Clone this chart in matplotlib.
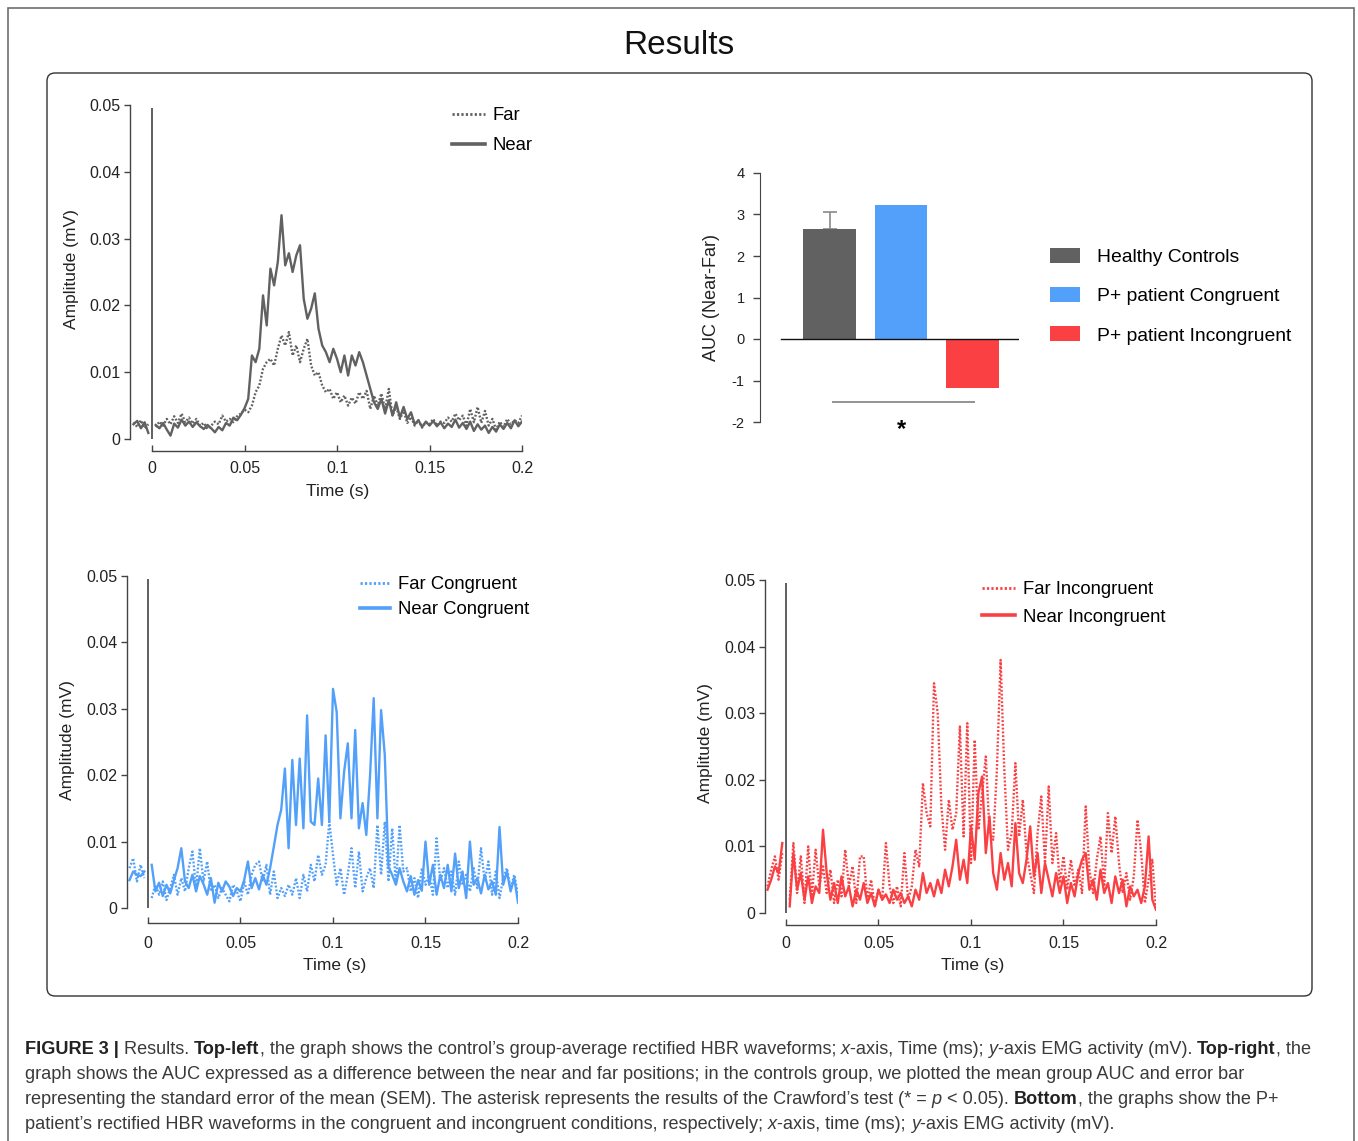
import numpy as np
import matplotlib
matplotlib.use('Agg')
import matplotlib.pyplot as plt
import matplotlib.transforms as mtransforms
from matplotlib.patches import FancyBboxPatch, Rectangle, Patch
from matplotlib.lines import Line2D

plt.rcParams['font.family'] = ['Liberation Sans', 'DejaVu Sans']
plt.rcParams['axes.unicode_minus'] = False

nan = np.nan

# sampling grid (s): 5 samples before the stimulus, gap at 0, then 100 samples
time = np.concatenate([np.linspace(-0.010, -0.002, 5), [0.0], np.linspace(0.002, 0.200, 100)])

# amplitudes in 1e-3 mV
hc_far = [2.5, 1.8, 2.8, 1.6, 2.2, nan,
          1.8, 2.6, 2.0, 3.0, 2.2, 3.4, 2.4, 3.8, 2.5, 3.2,
          2.3, 3.0, 2.0, 2.4, 1.5, 2.0, 2.6, 2.2, 3.5, 2.6,
          3.0, 2.5, 3.4, 3.8, 4.4, 4.0, 5.0, 7.0, 8.0, 10.5,
          11.5, 12.0, 11.0, 13.5, 15.5, 14.0, 16.0, 12.5, 14.0, 11.5,
          13.5, 15.0, 11.0, 9.5, 10.0, 8.0, 7.0, 7.5, 6.0, 7.0,
          5.5, 6.5, 5.0, 6.2, 5.3, 7.0, 6.0, 7.2, 4.5, 6.5,
          5.0, 6.8, 4.5, 7.5, 3.5, 4.8, 3.0, 4.2, 2.4, 3.3,
          2.0, 2.8, 1.7, 2.5, 2.2, 3.0, 2.0, 2.6, 2.4, 3.2,
          2.6, 3.8, 2.8, 3.5, 2.0, 4.5, 2.5, 4.8, 2.4, 4.2,
          2.0, 3.0, 1.4, 2.6, 1.8, 3.0, 2.2, 2.8, 2.4, 3.5]
hc_near = [2.2, 2.7, 1.6, 2.5, 0.9, nan,
           2.1, 1.6, 2.4, 1.4, 0.5, 2.3, 1.7, 2.9, 2.0, 2.6,
           1.8, 2.5, 1.9, 1.5, 2.1, 1.6, 1.0, 1.8, 1.3, 2.4,
           2.0, 3.2, 2.8, 3.6, 4.6, 6.0, 12.5, 11.5, 13.5, 21.5,
           17.0, 25.5, 23.0, 26.5, 33.5, 26.0, 27.8, 25.0, 27.5, 29.0,
           21.0, 18.0, 19.5, 21.8, 16.5, 14.0, 13.0, 11.5, 13.5, 12.0,
           10.0, 12.5, 9.5, 12.5, 11.0, 13.0, 11.5, 9.5, 7.5, 5.5,
           4.5, 6.0, 3.8, 5.8, 3.5, 5.5, 3.2, 4.8, 3.0, 4.0,
           2.2, 2.8, 1.8, 2.6, 2.0, 2.7, 1.9, 2.5, 1.6, 2.3,
           1.8, 2.9, 1.7, 2.4, 1.5, 2.6, 1.2, 2.2, 1.4, 2.0,
           0.9, 1.8, 1.1, 2.2, 1.5, 2.4, 1.6, 2.8, 1.9, 2.6]

con_far = [6.0, 7.5, 4.0, 6.5, 4.5, nan,
           1.5, 3.5, 2.0, 4.0, 1.2, 3.0, 5.0, 2.0, 4.5, 2.5,
           6.0, 8.5, 3.0, 9.0, 4.0, 7.0, 2.5, 3.5, 1.5, 3.0,
           2.0, 1.0, 3.5, 2.5, 1.0, 4.0, 2.0, 5.0, 6.5, 7.0,
           4.0, 6.5, 2.0, 5.5, 1.5, 3.0, 1.8, 3.5, 2.0, 4.5,
           1.5, 5.0, 2.5, 6.5, 4.0, 8.0, 5.0, 6.5, 13.0, 8.0,
           3.5, 6.0, 2.0, 5.0, 9.0, 3.0, 8.5, 2.5, 4.5, 6.0,
           3.0, 12.5, 5.0, 13.0, 4.0, 12.0, 3.5, 12.5, 5.5, 6.0,
           2.5, 4.5, 1.5, 6.0, 3.5, 5.0, 2.0, 10.5, 4.0, 6.0,
           3.0, 5.5, 2.0, 7.0, 3.5, 5.0, 2.5, 6.0, 3.0, 9.0,
           4.0, 7.0, 2.0, 5.5, 1.5, 4.5, 6.0, 3.0, 5.0, 2.0]
con_near = [4.2, 5.5, 5.0, 4.8, 5.5, nan,
            6.5, 2.5, 3.8, 1.8, 3.5, 2.2, 4.2, 6.0, 9.0, 4.0,
            3.0, 5.0, 2.5, 4.8, 3.6, 2.0, 4.5, 0.8, 3.8, 2.5,
            4.0, 3.2, 1.8, 3.0, 2.5, 4.2, 7.0, 3.0, 4.5, 2.8,
            5.0, 3.5, 6.0, 9.2, 12.5, 14.8, 21.0, 9.0, 22.3, 12.5,
            22.5, 12.0, 29.0, 13.0, 12.5, 19.5, 12.5, 26.0, 13.0, 33.0,
            29.5, 13.5, 20.5, 24.8, 13.5, 26.8, 12.0, 15.8, 11.0, 19.8,
            31.6, 13.5, 29.8, 23.0, 6.2, 5.0, 3.5, 6.0, 4.0, 2.5,
            4.8, 2.0, 4.2, 2.6, 10.0, 3.5, 6.5, 2.0, 5.0, 3.0,
            6.5, 2.5, 8.2, 3.0, 5.5, 1.5, 10.0, 3.5, 4.5, 2.2,
            5.0, 2.8, 4.0, 2.0, 12.2, 3.5, 5.5, 2.5, 4.5, 0.8]

inc_far = [4.0, 6.5, 8.5, 5.0, 9.0, nan,
           2.0, 10.5, 3.0, 8.5, 1.5, 10.0, 2.5, 9.5, 4.0, 7.0,
           3.0, 6.5, 1.5, 5.0, 2.5, 9.5, 4.0, 7.0, 1.5, 8.5,
           8.5, 2.0, 5.0, 1.0, 3.5, 2.0, 10.5, 4.0, 1.5, 4.0,
           1.0, 9.0, 2.0, 4.0, 9.5, 7.0, 19.5, 15.0, 13.0, 34.5,
           30.0, 16.0, 9.5, 17.0, 12.5, 15.0, 28.0, 11.5, 28.5, 7.5,
           26.0, 12.5, 18.0, 23.5, 12.0, 11.0, 21.5, 38.0, 21.5, 9.5,
           12.0, 22.5, 11.5, 17.0, 9.0, 6.0, 3.0, 12.0, 17.5, 7.5,
           19.0, 7.5, 12.0, 4.5, 8.5, 3.5, 8.0, 4.0, 6.5, 3.0,
           16.0, 6.5, 3.0, 8.0, 11.5, 4.0, 15.0, 9.0, 14.5, 7.5,
           3.0, 6.0, 2.0, 5.5, 14.0, 9.0, 1.5, 5.0, 8.0, 0.5]
inc_near = [3.5, 5.0, 7.0, 6.0, 10.5, nan,
            1.0, 9.0, 3.5, 6.0, 2.0, 5.5, 1.5, 4.0, 3.0, 12.5,
            6.0, 2.0, 4.5, 1.5, 5.5, 2.5, 4.0, 1.0, 3.5, 2.0,
            4.5, 1.5, 3.0, 1.0, 3.5, 2.0, 2.8, 1.5, 3.5, 2.0,
            3.0, 1.5, 2.5, 1.0, 3.5, 2.0, 6.0, 3.0, 4.5, 2.5,
            5.0, 3.0, 6.5, 4.0, 7.0, 11.0, 5.0, 8.0, 4.5, 13.0,
            8.0, 18.0, 20.5, 9.0, 14.5, 6.0, 3.5, 9.0, 5.0, 7.5,
            4.0, 13.5, 6.0, 4.5, 8.0, 13.0, 5.5, 9.0, 3.0, 7.5,
            5.0, 2.5, 6.0, 3.0, 5.5, 1.5, 4.5, 2.5, 6.0, 8.0,
            9.0, 3.5, 5.0, 2.0, 6.5, 3.0, 4.5, 1.5, 5.5, 3.0,
            5.0, 1.0, 4.0, 2.5, 3.5, 1.5, 4.0, 11.5, 2.0, 0.5]

# AUC bar chart
groups = ['Healthy Controls', 'P+ patient Congruent', 'P+ patient Incongruent']
auc = [2.64, 3.24, -1.19]
auc_sem = [0.43, 0, 0]

amp_ticks = [0, 0.01, 0.02, 0.03, 0.04, 0.05]
amp_labels = ['0', '0.01', '0.02', '0.03', '0.04', '0.05']
time_ticks = [0, 0.05, 0.1, 0.15, 0.2]
time_labels = ['0', '0.05', '0.1', '0.15', '0.2']
auc_ticks = [-2, -1, 0, 1, 2, 3, 4]

GRAY = '#616161'
BLUE = '#52a0fa'
RED = '#fa4043'

caption = [
    [('FIGURE 3 | ', 'bold', 'normal'), ('Results. ', 'normal', 'normal'), ('Top-left', 'bold', 'normal'),
     (', the graph shows the control\u2019s group-average rectified HBR waveforms; ', 'normal', 'normal'),
     ('x', 'normal', 'italic'), ('-axis, Time (ms); ', 'normal', 'normal'), ('y', 'normal', 'italic'),
     ('-axis EMG activity (mV). ', 'normal', 'normal'), ('Top-right', 'bold', 'normal'), (', the', 'normal', 'normal')],
    [('graph shows the AUC expressed as a difference between the near and far positions; in the controls group, '
      'we plotted the mean group AUC and error bar', 'normal', 'normal')],
    [('representing the standard error of the mean (SEM). The asterisk represents the results of the '
      'Crawford\u2019s test (* = ', 'normal', 'normal'), ('p', 'normal', 'italic'), (' < 0.05). ', 'normal', 'normal'),
     ('Bottom', 'bold', 'normal'), (', the graphs show the P+', 'normal', 'normal')],
    [('patient\u2019s rectified HBR waveforms in the congruent and incongruent conditions, respectively; ', 'normal', 'normal'),
     ('x', 'normal', 'italic'), ('-axis, time (ms); ', 'normal', 'normal'), ('y', 'normal', 'italic'),
     ('-axis EMG activity (mV).', 'normal', 'normal')],
]

W, H = 1358, 1141
fig = plt.figure(figsize=(W / 100, H / 100), dpi=100)


def px_rect(left, top, right, bottom):
    return [left / W, 1 - bottom / H, (right - left) / W, (bottom - top) / H]


# frames
ident = mtransforms.IdentityTransform()
fig.add_artist(Rectangle((8, -20), 1346, H - 8 + 20, transform=ident, fill=False,
                         edgecolor='#6e6e6e', lw=1.2))
fig.add_artist(FancyBboxPatch((47, H - 996), 1265, 923, transform=ident, fill=False,
                              boxstyle='round,pad=0,rounding_size=8', edgecolor='#333333', lw=1.0))
fig.text(679 / W, 1 - 46 / H, 'Results', fontsize=24, ha='center', va='center', color='#111111')


def wave_panel(rect, far, near, color, labels, leg_xy, leg_space, handle_len, xlo, ylo,
               ylab_x, xlab_y, xpad):
    ax = fig.add_axes(rect)
    ax.plot(time, np.array(far) / 1000, color=color, lw=1.7, ls=(0, (0.8, 0.8)))
    ax.plot(time, np.array(near) / 1000, color=color, lw=1.7)
    ax.vlines(0, 0, 0.0495, color='#444444', lw=1.2)
    ax.set_xlim(xlo, 0.2)
    ax.set_ylim(ylo, 0.05)
    for s in ['top', 'right']:
        ax.spines[s].set_visible(False)
    ax.spines['left'].set_bounds(0, 0.05)
    ax.spines['bottom'].set_bounds(0, 0.2)
    for s in ['left', 'bottom']:
        ax.spines[s].set_color('#444444')
        ax.spines[s].set_linewidth(1.0)
    ax.set_yticks(amp_ticks)
    ax.set_yticklabels(amp_labels)
    ax.set_xticks(time_ticks)
    ax.set_xticklabels(time_labels)
    ax.tick_params(axis='y', direction='out', length=4, width=1, color='#444444',
                   labelsize=11.5, labelcolor='#222222', pad=3)
    ax.tick_params(axis='x', direction='in', length=4, width=1, color='#444444',
                   labelsize=11.5, labelcolor='#222222', pad=xpad)
    ax.set_ylabel('Amplitude (mV)', fontsize=12.5, color='#222222')
    ax.set_xlabel('Time (s)', fontsize=12.5, color='#222222')
    ax.yaxis.set_label_coords(ylab_x, 0.527)
    ax.xaxis.set_label_coords(0.53, xlab_y)
    handles = [Line2D([], [], color=color, lw=2, ls=(0, (0.8, 0.8))),
               Line2D([], [], color=color, lw=2.6)]
    ax.legend(handles, labels, loc='upper left', bbox_to_anchor=(leg_xy[0] / W, 1 - leg_xy[1] / H),
              bbox_transform=fig.transFigure, frameon=False, fontsize=13.3, borderpad=0,
              borderaxespad=0, handlelength=handle_len, handletextpad=0.43, labelspacing=leg_space)
    return ax


wave_panel(px_rect(130, 105, 522, 451), hc_far, hc_near, GRAY, ['Far', 'Near'],
           (452, 107), 0.71, 1.78, -0.0119, -0.0018, -0.131, -0.094, 7)
wave_panel(px_rect(127, 576, 518, 923), con_far, con_near, BLUE, ['Far Congruent', 'Near Congruent'],
           (360, 576), 0.46, 1.62, -0.01135, -0.00226, -0.132, -0.101, 9)
wave_panel(px_rect(765, 580, 1156, 925), inc_far, inc_near, RED, ['Far Incongruent', 'Near Incongruent'],
           (982, 581), 0.58, 1.78, -0.01135, -0.0018, -0.134, -0.096, 8)

# AUC bars
ax = fig.add_axes(px_rect(760, 173, 1019, 422))
xpos = np.arange(len(groups))
ax.bar(xpos, auc, width=0.74, color=[GRAY, BLUE, RED], zorder=2)
ax.errorbar(xpos[:1], auc[:1], yerr=[[0], auc_sem[:1]], fmt='none', ecolor='#8a8a8a',
            elinewidth=1.2, capsize=5, capthick=1.2, zorder=1)
ax.axhline(0, xmin=0.081, xmax=1, color='#111111', lw=1.0, zorder=3)
ax.hlines(-1.52, 0.035, 2.035, color='#8a8a8a', lw=1.3)
ax.text(1.0, -2.17, '*', fontsize=17, fontweight='bold', ha='center', va='center', clip_on=False)
ax.set_xlim(-0.972, 2.65)
ax.set_ylim(-2, 4)
for s in ['top', 'right', 'bottom']:
    ax.spines[s].set_visible(False)
ax.spines['left'].set_color('#444444')
ax.set_xticks([])
ax.set_yticks(auc_ticks)
ax.set_yticklabels([str(v) for v in auc_ticks])
ax.tick_params(axis='y', direction='out', length=5, width=1, color='#444444',
               labelsize=10.5, labelcolor='#222222', pad=6)
ax.set_ylabel('AUC (Near-Far)', fontsize=13, color='#222222')
ax.yaxis.set_label_coords(-0.156, 0.502)
bar_handles = [Patch(facecolor=c) for c in [GRAY, BLUE, RED]]
ax.legend(bar_handles, groups, loc='upper left', bbox_to_anchor=(1050 / W, 1 - 248 / H),
          bbox_transform=fig.transFigure, frameon=False, fontsize=13.9, borderpad=0, borderaxespad=0,
          handlelength=1.55, handleheight=0.83, handletextpad=0.88, labelspacing=1.08)

# caption with mixed styles
renderer = fig.canvas.get_renderer()
for i, parts in enumerate(caption):
    x = 25
    y = 1054 + 25 * i
    for txt, weight, style in parts:
        t = fig.text(x / W, 1 - y / H, txt, fontsize=13.05, fontweight=weight, fontstyle=style,
                     color='#222222' if weight == 'bold' else '#3a3a3a', va='baseline')
        x += t.get_window_extent(renderer).width

fig.savefig('out.png', dpi=100)
